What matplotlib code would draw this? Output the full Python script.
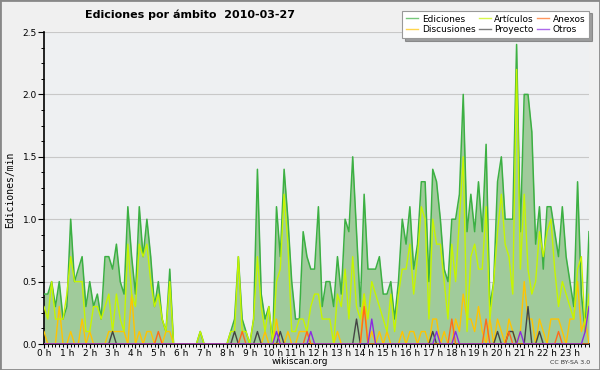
import matplotlib
matplotlib.use("Agg")
import matplotlib.pyplot as plt
from matplotlib.patches import Rectangle
import numpy as np

# edits per minute, one value per 10-minute slot (144 slots)
ediciones = [
    0.4, 0.4, 0.5, 0.3, 0.5, 0.2,
    0.3, 1.0, 0.5, 0.6, 0.7, 0.3,
    0.5, 0.3, 0.4, 0.2, 0.7, 0.7,
    0.6, 0.8, 0.5, 0.4, 1.1, 0.7,
    0.4, 1.1, 0.7, 1.0, 0.7, 0.3,
    0.5, 0.2, 0.1, 0.6, 0.0, 0.0,
    0.0, 0.0, 0.0, 0.0, 0.0, 0.1,
    0.0, 0.0, 0.0, 0.0, 0.0, 0.0,
    0.0, 0.1, 0.2, 0.7, 0.2, 0.1,
    0.0, 0.2, 1.4, 0.4, 0.2, 0.3,
    0.0, 1.1, 0.7, 1.4, 1.0, 0.5,
    0.2, 0.2, 0.9, 0.7, 0.6, 0.6,
    1.1, 0.3, 0.5, 0.5, 0.3, 0.7,
    0.4, 1.0, 0.9, 1.5, 0.9, 0.3,
    1.2, 0.6, 0.6, 0.6, 0.7, 0.4,
    0.4, 0.5, 0.2, 0.5, 1.0, 0.8,
    1.1, 0.6, 0.8, 1.3, 1.3, 0.5,
    1.4, 1.3, 1.0, 0.6, 0.5, 1.0,
    1.0, 1.2, 2.0, 0.9, 1.2, 0.9,
    1.3, 0.9, 1.6, 0.3, 0.5, 1.3,
    1.5, 1.0, 1.0, 1.0, 2.4, 0.9,
    2.0, 2.0, 1.7, 0.8, 1.1, 0.6,
    1.1, 1.1, 0.9, 0.7, 1.1, 0.7,
    0.5, 0.3, 1.3, 0.4, 0.1, 0.9,
]

articulos = [
    0.3, 0.2, 0.5, 0.2, 0.2, 0.2,
    0.4, 0.7, 0.5, 0.5, 0.5, 0.1,
    0.1, 0.3, 0.3, 0.2, 0.3, 0.4,
    0.1, 0.4, 0.2, 0.1, 0.8, 0.4,
    0.3, 0.8, 0.7, 0.8, 0.5, 0.3,
    0.4, 0.2, 0.1, 0.5, 0.0, 0.0,
    0.0, 0.0, 0.0, 0.0, 0.0, 0.1,
    0.0, 0.0, 0.0, 0.0, 0.0, 0.0,
    0.0, 0.1, 0.1, 0.7, 0.1, 0.1,
    0.0, 0.2, 0.7, 0.3, 0.1, 0.3,
    0.0, 0.5, 0.6, 1.2, 0.8, 0.1,
    0.1, 0.2, 0.2, 0.1, 0.3, 0.4,
    0.4, 0.2, 0.2, 0.2, 0.0, 0.4,
    0.3, 0.6, 0.2, 0.7, 0.3, 0.2,
    0.4, 0.2, 0.5, 0.4, 0.3, 0.2,
    0.1, 0.4, 0.1, 0.4, 0.6, 0.6,
    0.8, 0.4, 0.7, 1.1, 1.0, 0.2,
    1.0, 0.8, 0.8, 0.5, 0.2, 0.8,
    0.5, 1.0, 1.5, 0.1, 0.7, 0.8,
    0.6, 0.6, 1.1, 0.2, 0.5, 0.9,
    1.2, 0.8, 0.7, 0.4, 2.2, 0.6,
    1.2, 0.6, 0.4, 0.5, 0.9, 0.7,
    0.9, 1.0, 0.6, 0.3, 0.5, 0.4,
    0.3, 0.2, 0.6, 0.7, 0.1, 0.4,
]

# sparse series: slot index -> value
discusiones_pts = {
    0: 0.1, 4: 0.3, 7: 0.1, 10: 0.2, 12: 0.1, 17: 0.1, 18: 0.1, 19: 0.1,
    20: 0.1, 21: 0.1, 23: 0.4, 25: 0.1, 27: 0.1, 28: 0.1, 32: 0.1, 33: 0.1,
    58: 0.1, 61: 0.2, 64: 0.1, 67: 0.1, 68: 0.1, 69: 0.1, 77: 0.1, 84: 0.4,
    86: 0.1, 88: 0.1, 90: 0.1, 94: 0.1, 96: 0.1, 97: 0.1, 99: 0.1, 100: 0.1,
    102: 0.2, 103: 0.2, 105: 0.1, 108: 0.2, 109: 0.1, 110: 0.4, 111: 0.2,
    112: 0.2, 113: 0.1, 114: 0.3, 115: 0.1, 117: 0.2, 119: 0.2, 120: 0.1,
    122: 0.2, 123: 0.1, 125: 0.1, 126: 0.5, 127: 0.2, 128: 0.2, 130: 0.2,
    131: 0.1, 133: 0.2, 134: 0.2, 135: 0.2, 136: 0.1, 138: 0.2, 139: 0.2,
    140: 0.5, 141: 0.1, 142: 0.2,
}
proyecto_pts = {
    18: 0.1, 50: 0.1, 56: 0.1, 62: 0.1, 82: 0.2, 102: 0.1, 119: 0.1,
    122: 0.1, 123: 0.1, 127: 0.3, 130: 0.1,
}
anexos_pts = {30: 0.1, 52: 0.1, 69: 0.1, 84: 0.3, 107: 0.2, 116: 0.2, 122: 0.1, 135: 0.1}
otros_pts = {61: 0.1, 70: 0.1, 86: 0.2, 103: 0.1, 108: 0.1, 125: 0.1, 142: 0.1, 143: 0.3}

hour_labels = [f"{h} h" for h in range(24)]

n = len(ediciones)
hours = np.arange(n) / 6.0


def dense(pts):
    arr = np.zeros(n)
    for k, v in pts.items():
        arr[k] = v
    return arr


fig = plt.figure(figsize=(6, 3.7), dpi=100, facecolor="#f0f0f0")
ax = fig.add_axes([44 / 600, 1 - 344 / 370, 545 / 600, 312 / 370])
ax.set_facecolor("#eef0f2")

ax.fill_between(hours, ediciones, 0, color="#a0cb9b", linewidth=0, zorder=2)
ax.plot(hours, ediciones, color="#3cb043", lw=1.1, zorder=3, label="Ediciones")
ax.plot(hours, dense(discusiones_pts), color="#ffc400", lw=1.0, zorder=4, label="Discusiones")
ax.plot(hours, articulos, color="#c6f500", lw=1.0, zorder=5, label="Artículos")
ax.plot(hours, dense(proyecto_pts), color="#444444", lw=1.0, zorder=6, label="Proyecto")
ax.plot(hours, dense(anexos_pts), color="#ff6a1a", lw=1.0, zorder=6, label="Anexos")
ax.plot(hours, dense(otros_pts), color="#8a2be2", lw=1.0, zorder=6, label="Otros")

ax.set_xlim(0, hours[-1])
ax.set_ylim(0, 2.5)
ax.set_xticks(range(24))
ax.set_xticklabels(hour_labels)
ax.set_xticks(hours, minor=True)
ax.set_yticks([0, 0.5, 1.0, 1.5, 2.0, 2.5])
ax.set_yticklabels(["0.0", "0.5", "1.0", "1.5", "2.0", "2.5"])
ax.set_yticks(np.arange(0, 2.51, 0.125), minor=True)
ax.tick_params(axis="both", which="major", labelsize=6.5, length=4, width=0.8,
               colors="black", pad=1)
ax.tick_params(axis="both", which="minor", length=2.5, width=0.7)
ax.tick_params(axis="x", which="major", length=3, pad=0.5)
for lab in ax.get_xticklabels():
    lab.set_horizontalalignment("center")
ax.grid(axis="y", color="#c8c8c8", lw=0.8, zorder=1)
ax.set_axisbelow(True)
for side in ("top", "right"):
    ax.spines[side].set_visible(False)
ax.spines["left"].set_linewidth(1.2)
ax.spines["bottom"].set_linewidth(1.2)

fig.text(10 / 600, 1 - 190 / 370, "Ediciones/min", fontsize=7, family="DejaVu Sans Mono",
         rotation=90, ha="center", va="center")

fig.text(85 / 600, 1 - 15 / 370, "Ediciones por ámbito  2010-03-27",
         fontsize=8, fontweight="bold", ha="left", va="center")
fig.text(300 / 600, 1 - 362 / 370, "wikiscan.org", fontsize=6.5, ha="center", va="center")
fig.text(590 / 600, 1 - 362 / 370, "CC BY-SA 3.0", fontsize=4.5, ha="right", va="center",
         color="#333333")

handles, labels = ax.get_legend_handles_labels()
order = ["Ediciones", "Discusiones", "Artículos", "Proyecto", "Anexos", "Otros"]
hmap = dict(zip(labels, handles))
leg = fig.legend([hmap[k] for k in order], order, ncol=3, loc="upper right",
                 bbox_to_anchor=(594 / 600, 1 - 6 / 370), fontsize=6.5,
                 frameon=True, fancybox=False, shadow=True, handlelength=1.3,
                 handletextpad=0.4, columnspacing=0.4, labelspacing=0.2,
                 borderpad=0.45)
leg.get_frame().set_edgecolor("#999999")
leg.get_frame().set_facecolor("white")
leg.get_frame().set_linewidth(0.8)
for line in leg.get_lines():
    line.set_linewidth(1.0)
    line.set_alpha(0.7)

fig.patches.append(Rectangle((0, 0), 1, 1, transform=fig.transFigure, fill=False,
                             edgecolor="#888888", lw=2))

fig.savefig("out.png", dpi=100, facecolor=fig.get_facecolor())
